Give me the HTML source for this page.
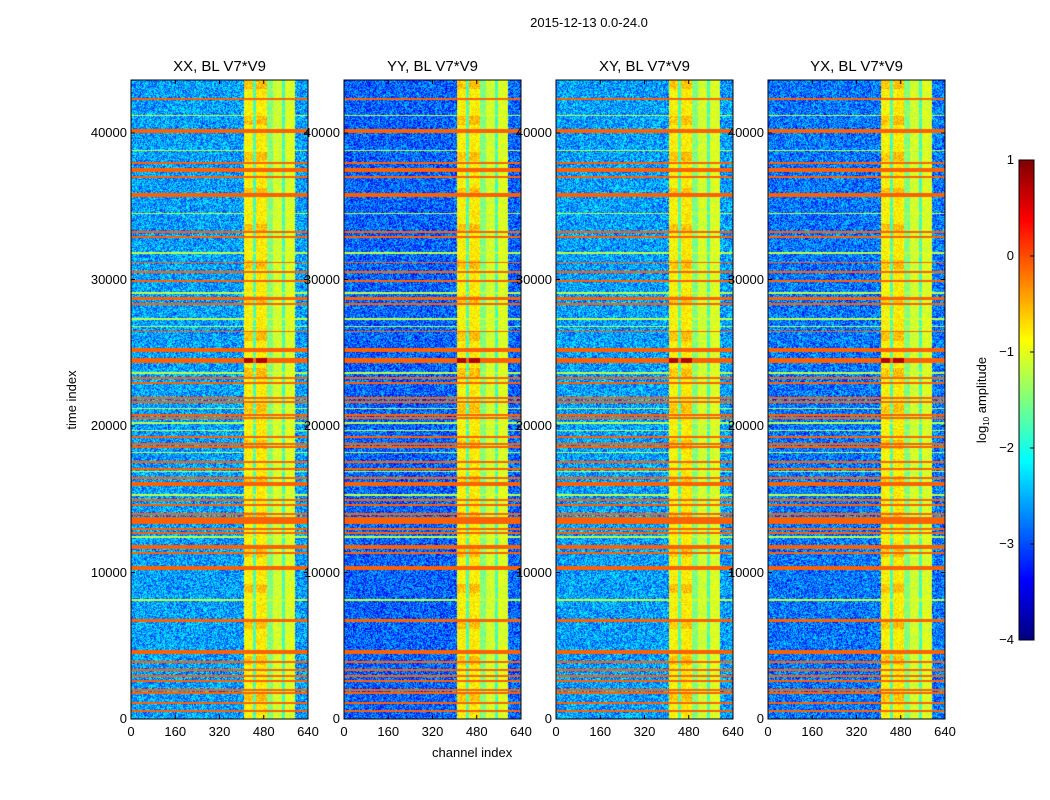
<!DOCTYPE html>
<html><head><meta charset="utf-8">
<style>
body{margin:0;background:#fff;width:1050px;height:800px;position:relative;overflow:hidden;font-family:"Liberation Sans",sans-serif;color:#000}
.t{position:absolute;font-size:13px;white-space:nowrap}
.pt{position:absolute;font-size:15px;white-space:nowrap;text-align:center}
.rot{position:absolute;font-size:13px;white-space:nowrap;width:160px;height:16px;line-height:16px;text-align:center;transform:rotate(-90deg)}
canvas{position:absolute}
svg{position:absolute;left:0;top:0}
</style></head>
<body>
<div class="t" style="left:0;width:1178px;text-align:center;top:15px">2015-12-13 0.0-24.0</div>
<div class="rot" style="left:-8px;top:392px">time index</div>
<div class="t" style="left:432px;top:745px">channel index</div>
<div id="root"></div>
<canvas id="cb" width="15" height="480" style="left:1019px;top:160px"></canvas>
<div class="rot" style="left:902px;top:392px">log<span style="font-size:8px;vertical-align:-3px;line-height:0">10</span> amplitude</div>
<svg id="svg" width="1050" height="800"></svg>
<script>
// ---- data ----
const panelTitles=["XX, BL V7*V9","YY, BL V7*V9","XY, BL V7*V9","YX, BL V7*V9"];
const panelOffset=[0,-0.3,0,-0.2];
const chanStart=[0,405,440,450,490,510,545,555,590];
const chanLevel=[-2.6,-0.85,-1.8,-0.8,-1.5,-1.1,-1.8,-1.05,-2.6];
const flagStart=[42280,40000,37900,37340,36960,35630,33200,32860,31150,30440,29860,28600,28290,26440,25050,24300,23240,22900,21870,21600,20710,20510,19210,18730,18530,17500,17020,16410,15900,14910,14570,13950,13310,12930,12660,11600,11290,10170,6620,4600,4460,3850,3300,2900,2550,1940,1730,1050,510];
const flagEnd=  [42360,40270,37990,37610,37040,35900,33280,32940,31230,30580,29940,28800,28370,26520,25320,24640,23320,22980,21950,21680,20790,20590,19290,18810,18610,17580,17100,16490,16180,14990,14650,14030,13790,13010,12740,11880,11370,10440,6830,4680,4540,3930,3380,2980,2630,2020,1810,1130,590];
const greenRows=[41200,38800,34500,31800,29100,27300,26800,23600,21200,20200,19700,18200,16900,15300,12400,8100];
const yTicks=[0,10000,20000,30000,40000];
const xTicks=[0,160,320,480,640];
const cbTicks=[1,0,-1,-2,-3,-4];
// ---- layout ----
const panelX=[131,344,556,768],PW=177,PT=80,PB=719,TMAX=43620,CMAX=640,VMIN=-4,VMAX=1;
const ty=t=>PB-(t/TMAX)*(PB-PT);
const cx=(i,c)=>panelX[i]+c/CMAX*PW;
function jet(v){let x=(v-VMIN)/(VMAX-VMIN);x=Math.max(0,Math.min(1,x));
 const f=a=>Math.round(255*Math.max(0,Math.min(1,1.5-Math.abs(4*x-a))));return [f(3),f(2),f(1)];}
function hash(a,b){let h=(a*374761393+b*668265263)|0;h=(h^(h>>>13))*1274126177|0;return ((h^(h>>>16))>>>0)/4294967295;}
const root=document.getElementById('root'),svg=document.getElementById('svg');
const NS="http://www.w3.org/2000/svg";
function line(x1,y1,x2,y2,name){const l=document.createElementNS(NS,'line');
 l.setAttribute('x1',x1);l.setAttribute('y1',y1);l.setAttribute('x2',x2);l.setAttribute('y2',y2);
 l.setAttribute('stroke','#000');l.setAttribute('stroke-width','1');
 
 
 svg.appendChild(l);}
function label(x,y,txt,align,name,cls){const d=document.createElement('div');d.className=cls||'t';d.textContent=txt;
 d.style.top=y+'px';
 if(align==='c'){d.style.left=(x-60)+'px';d.style.width='120px';d.style.textAlign='center';}
 else{d.style.left=(x-80)+'px';d.style.width='80px';d.style.textAlign='right';}
 
 
 root.appendChild(d);}
for(let p=0;p<4;p++){
 const W=PW,H=PB-PT;
 const cv=document.createElement('canvas');cv.width=W;cv.height=H;cv.style.left=panelX[p]+'px';cv.style.top=PT+'px';
 
 
 root.appendChild(cv);
 const ctx=cv.getContext('2d'),img=ctx.createImageData(W,H);
 for(let py=0;py<H;py++){
  const t=TMAX*(1-(py+0.5)/H);
  let flag=false;for(let k=0;k<flagStart.length;k++)if(t>=flagStart[k]&&t<=flagEnd[k]){flag=true;break;}
  let green=false;for(const g of greenRows)if(Math.abs(t-g)<60)green=true;
  for(let px=0;px<W;px++){
   const c=px/W*CMAX;let lv=chanLevel[0];
   for(let k=0;k<chanStart.length;k++)if(c>=chanStart[k])lv=chanLevel[k];
   let v;
   if(flag) v=(t>24300&&t<24640&&((c>405&&c<440)||(c>450&&c<490)))?0.75:-0.1;
   else{
    const bg=lv<-2.2;
    v=lv+(bg?panelOffset[p]:0)+(hash(px+p*999,py)-0.5)*(bg?1.2:0.5);
    if(!bg&&((c>405&&c<440)||(c>450&&c<490))&&(Math.floor(py/9)%4===0))v+=0.25;
    if(green)v=Math.max(v,-1.2);
   }
   const [r,g,b]=jet(v),i=(py*W+px)*4;img.data[i]=r;img.data[i+1]=g;img.data[i+2]=b;img.data[i+3]=255;
  }}
 ctx.putImageData(img,0,0);
 const fr=document.createElementNS(NS,'rect');fr.setAttribute('x',panelX[p]);fr.setAttribute('y',PT);fr.setAttribute('width',PW);fr.setAttribute('height',PB-PT);
 fr.setAttribute('fill','none');fr.setAttribute('stroke','#000');
 
 
 svg.appendChild(fr);
 label(panelX[p]+PW/2,58,panelTitles[p],'c','panel-title','pt');
 for(const v of yTicks){const y=ty(v);line(panelX[p],y,panelX[p]+4,y,'y-tick');line(panelX[p]+PW-4,y,panelX[p]+PW,y,'y-tick');
  label(panelX[p]-4,y-8,String(v),'r','y-tick-label');}
 for(const v of xTicks){const x=cx(p,v);line(x,PB,x,PB-4,'x-tick');line(x,PT,x,PT+4,'x-tick');
  label(x,724,String(v),'c','x-tick-label');}
}
// colorbar
const cb=document.getElementById('cb').getContext('2d');
for(let y=0;y<480;y++){const v=VMAX-(y+0.5)/480*(VMAX-VMIN);const [r,g,b]=jet(v);cb.fillStyle=`rgb(${r},${g},${b})`;cb.fillRect(0,y,15,1);}
const cf=document.createElementNS(NS,'rect');cf.setAttribute('x',1019);cf.setAttribute('y',160);cf.setAttribute('width',15);cf.setAttribute('height',480);
cf.setAttribute('fill','none');cf.setAttribute('stroke','#000');


svg.appendChild(cf);
for(const v of cbTicks){const y=160+(VMAX-v)/(VMAX-VMIN)*480;line(1030,y,1034,y,'colorbar-tick');
 label(1014,y-8,(v<0?'\u2212'+(-v):String(v)),'r','colorbar-tick-label');}
</script>
</body></html>
